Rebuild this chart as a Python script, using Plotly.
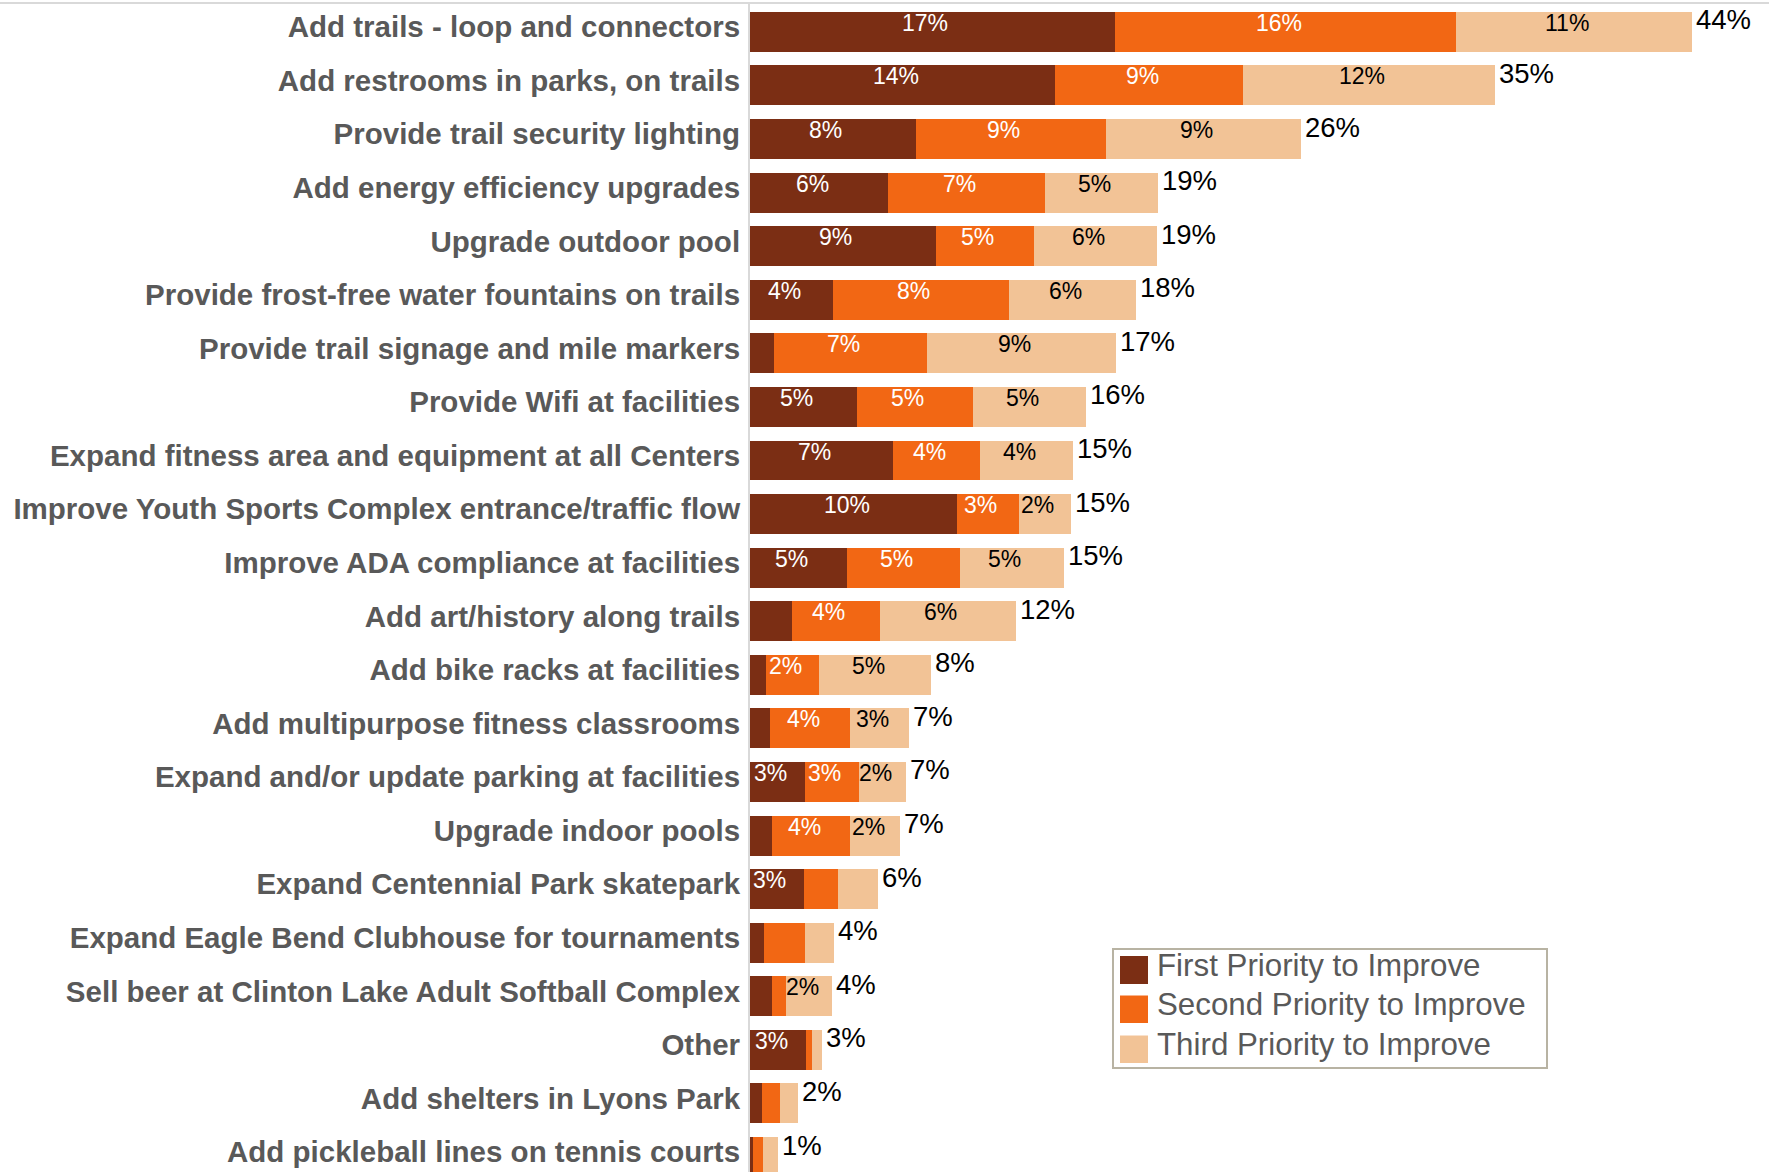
import plotly.graph_objects as go

# Survey items, listed top to bottom
categories = [
    "Add trails - loop and connectors",
    "Add restrooms in parks, on trails",
    "Provide trail security lighting",
    "Add energy efficiency upgrades",
    "Upgrade outdoor pool",
    "Provide frost-free water fountains on trails",
    "Provide trail signage and mile markers",
    "Provide Wifi at facilities",
    "Expand fitness area and equipment at all Centers",
    "Improve Youth Sports Complex entrance/traffic flow",
    "Improve ADA compliance at facilities",
    "Add art/history along trails",
    "Add bike racks at facilities",
    "Add multipurpose fitness classrooms",
    "Expand and/or update parking at facilities",
    "Upgrade indoor pools",
    "Expand Centennial Park skatepark",
    "Expand Eagle Bend Clubhouse for tournaments",
    "Sell beer at Clinton Lake Adult Softball Complex",
    "Other",
    "Add shelters in Lyons Park",
    "Add pickleball lines on tennis courts",
]

# Percent of respondents choosing each item as 1st / 2nd / 3rd priority
first_priority = [17.05, 14.26, 7.74, 6.47, 8.68, 3.90, 1.13, 5.01, 6.66, 9.69, 4.55,
                  1.95, 0.75, 0.94, 2.55, 1.04, 2.52, 0.67, 1.04, 2.63, 0.58, 0.15]
second_priority = [15.95, 8.79, 8.89, 7.30, 4.58, 8.18, 7.16, 5.39, 4.11, 2.86, 5.24,
                   4.11, 2.48, 3.75, 2.53, 3.65, 1.61, 1.92, 0.65, 0.29, 0.84, 0.44]
third_priority = [11.00, 11.74, 9.10, 5.30, 5.74, 5.97, 8.83, 5.32, 4.34, 2.45, 4.86,
                  6.35, 5.24, 2.75, 2.23, 2.34, 1.86, 1.32, 2.15, 0.46, 0.84, 0.73]

series_names = ["First Priority to Improve", "Second Priority to Improve", "Third Priority to Improve"]
series_values = [first_priority, second_priority, third_priority]
series_colors = ["#7B2E14", "#F26714", "#F2C396"]
label_colors = ["white", "white", "black"]

FONT = "Arial, 'Liberation Sans', sans-serif"
W, H = 1769, 1172
M_L, M_T = 750, 4
PLOT_W, PLOT_H = W - M_L, H - M_T
PX_PER_PCT = 21.4

fig = go.Figure()
for name, vals, color in zip(series_names, series_values, series_colors):
    fig.add_trace(go.Bar(
        name=name, y=categories, x=vals, orientation="h",
        marker=dict(color=color, line=dict(width=0)),
        showlegend=False, hoverinfo="skip",
    ))

annotations = []
# segment labels (only for segments of at least 2%)
bases = [0.0] * len(categories)
for vals, tcolor in zip(series_values, label_colors):
    for i, v in enumerate(vals):
        if v >= 2.0:
            annotations.append(dict(
                x=bases[i] + v / 2, y=categories[i], xref="x", yref="y",
                text=f"{v:.0f}%", showarrow=False, xshift=-7, yshift=9,
                font=dict(family=FONT, size=23, color=tcolor),
            ))
        bases[i] += v

# total labels at the bar ends
for i, total in enumerate(bases):
    annotations.append(dict(
        x=total, y=categories[i], xref="x", yref="y", xanchor="left",
        text=f"{total:.0f}%", showarrow=False, xshift=2, yshift=12,
        font=dict(family=FONT, size=27.5, color="black"),
    ))


def px_x(px):
    return (px - M_L) / PLOT_W


def px_y(py):
    return 1 - (py - M_T) / PLOT_H


shapes = [
    # thin rule along the top edge
    dict(type="line", xref="paper", yref="paper", x0=px_x(0), x1=px_x(W), y0=px_y(3), y1=px_y(3),
         line=dict(color="#d9d9d9", width=2)),
    # legend frame
    dict(type="rect", xref="paper", yref="paper", x0=px_x(1113), x1=px_x(1547),
         y0=px_y(949), y1=px_y(1068), line=dict(color="#b8b3a3", width=2), fillcolor="white"),
]
legend_rows = [(956, 984), (995.5, 1023), (1035.5, 1063)]
for (top, bot), name, color in zip(legend_rows, series_names, series_colors):
    shapes.append(dict(type="rect", xref="paper", yref="paper", x0=px_x(1120), x1=px_x(1148),
                       y0=px_y(bot), y1=px_y(top), line=dict(width=0), fillcolor=color))
    annotations.append(dict(
        x=px_x(1155), y=px_y((top + bot) / 2 - 5), xref="paper", yref="paper",
        xanchor="left", yanchor="middle", text=name, showarrow=False,
        font=dict(family=FONT, size=31.3, color="#595959"),
    ))

# vertical category scale: one row every 53.6 px, bottom row partly cut off
top_val = -0.52
unit_px = 53.58
bottom_val = top_val + PLOT_H / unit_px

fig.update_layout(
    width=W, height=H,
    margin=dict(l=M_L, r=0, t=M_T, b=0, pad=0, autoexpand=False),
    barmode="stack", bargap=0.254,
    plot_bgcolor="white", paper_bgcolor="white",
    xaxis=dict(range=[0, PLOT_W / PX_PER_PCT], visible=False, showgrid=False,
               zeroline=False, automargin=False),
    yaxis=dict(
        categoryorder="array", categoryarray=categories,
        range=[bottom_val, top_val], automargin=False,
        showline=True, linecolor="#d9d9d9", linewidth=2,
        showgrid=False, zeroline=False, ticks="",
        ticklabelstandoff=2, ticklabelshift=5,
        tickfont=dict(family=FONT, size=29.5, color="#595959", weight="bold"),
    ),
    annotations=annotations, shapes=shapes,
    showlegend=False,
)

fig.write_html("out.html")
